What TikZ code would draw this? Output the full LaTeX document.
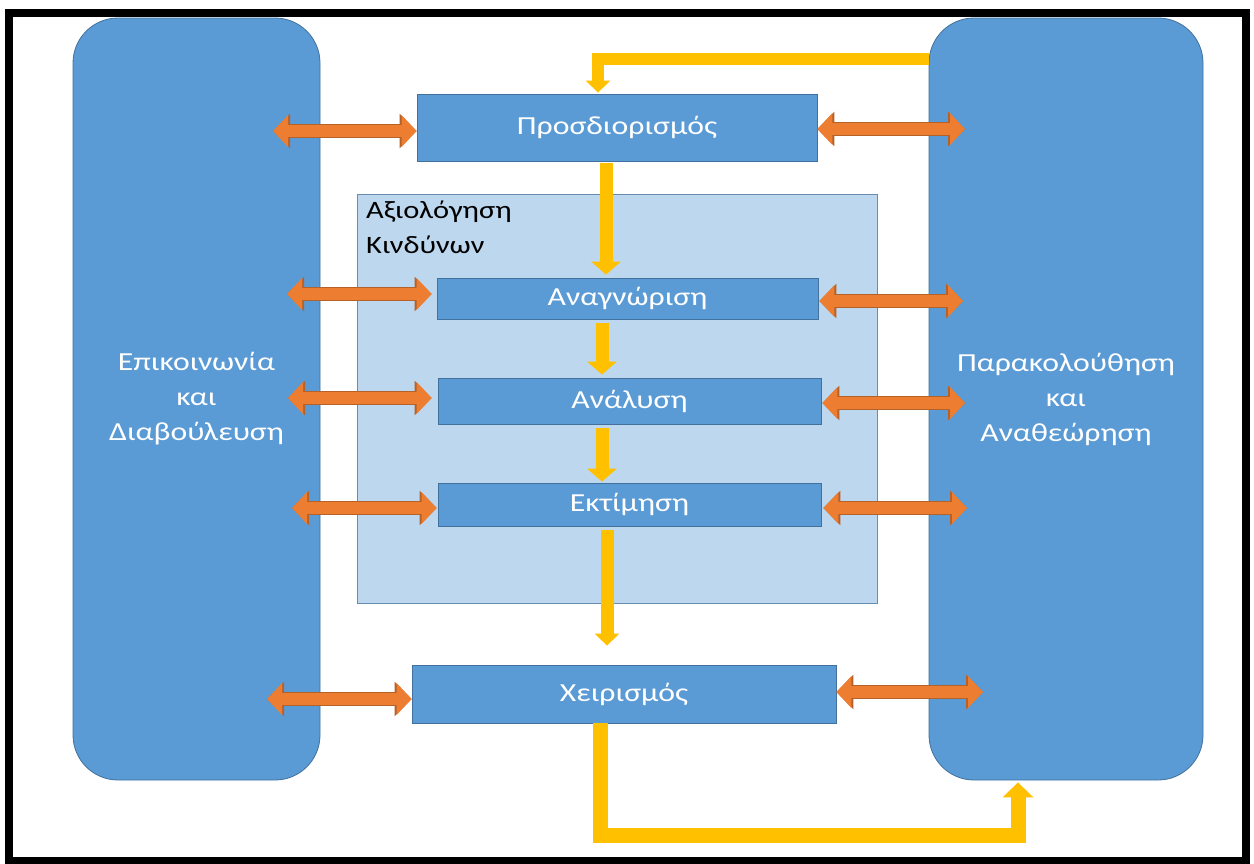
\documentclass[tikz,border=0pt]{standalone}
\usepackage{fontspec}
\setmainfont{Carlito}[FakeStretch=1.22]
\usetikzlibrary{arrows.meta,calc}
\definecolor{bluefill}{HTML}{5B9BD5}
\definecolor{blueline}{HTML}{41719C}
\definecolor{lightfill}{HTML}{BDD7EE}
\definecolor{orangefill}{HTML}{ED7D31}
\definecolor{orangeline}{HTML}{B5612A}
\definecolor{yellowfill}{HTML}{FFC000}
\begin{document}
\begin{tikzpicture}[x=1pt,y=-1pt,
  bigbox/.style={draw=blueline, fill=bluefill, line width=0.8pt, rounded corners=45pt, text=white, align=center, inner sep=0pt, font=\fontsize{26pt}{35pt}\selectfont},
  stepbox/.style={draw=blueline, fill=bluefill, line width=0.8pt, text=white, inner sep=0pt, font=\fontsize{26pt}{30pt}\selectfont},
  groupbox/.style={draw=blueline!80, fill=lightfill, line width=0.8pt, inner sep=0pt},
  yarrow/.style={draw=yellowfill, line width=13pt, -{Triangle[width=29pt,length=13pt]}},
  oarrow/.style={preaction={draw=orangeline, line width=13.6pt, arrows={Triangle[width=33.5pt,length=17pt]-Triangle[width=33.5pt,length=17pt]}},
    draw=orangefill, line width=12pt, {Triangle[width=31pt,length=15pt]}-{Triangle[width=31pt,length=15pt]}},
]
\useasboundingbox (0,0) rectangle (1254,863);
\fill[white] (0,0) rectangle (1254,863);
\draw[line width=8pt] (9,12.5) rectangle (1245.5,861);

% big side boxes
\node[bigbox, minimum width=247pt, minimum height=762pt] (left) at (196.5,399) {Επικοινωνία\\και\\Διαβούλευση};
\node[bigbox, minimum width=274pt, minimum height=762pt] (right) at (1066,399) {Παρακολούθηση\\και\\Αναθεώρηση};

% risk assessment group
\node[groupbox, minimum width=520pt, minimum height=409pt] (group) at (617,398.5) {};
\node[anchor=north west, align=left, inner sep=0pt, text=black, font=\fontsize{25pt}{35pt}\selectfont] (title) at (366,201) {Αξιολόγηση\\Κινδύνων};

% steps
\node[stepbox, minimum width=400pt, minimum height=67pt] (pros) at (617,127.5) {Προσδιορισμός};
\node[stepbox, minimum width=381pt, minimum height=41pt] (anag) at (627.5,298.5) {Αναγνώριση};
\node[stepbox, minimum width=383pt, minimum height=46pt] (anal) at (629.5,401) {Ανάλυση};
\node[stepbox, minimum width=383pt, minimum height=43pt] (ekt) at (629.5,504.5) {Εκτίμηση};
\node[stepbox, minimum width=424pt, minimum height=58pt] (xeir) at (624,694) {Χειρισμός};

% free ends
\coordinate (l1) at (273,131);  \coordinate (r1) at (965,129);
\coordinate (l2) at (287,294);  \coordinate (r2) at (963,301);
\coordinate (l3) at (288,398);  \coordinate (r3) at (965,403);
\coordinate (l4) at (292,508);  \coordinate (r4) at (967,508);
\coordinate (l5) at (267,699);  \coordinate (r5) at (983,692);

% orange double arrows
\draw[oarrow] (l1) -- (pros.west |- l1);
\draw[oarrow] (pros.east |- r1) -- (r1);
\draw[oarrow, shorten >=5pt] (l2) -- (anag.west |- l2);
\draw[oarrow, shorten <=1pt] (anag.east |- r2) -- (r2);
\draw[oarrow, shorten >=6pt] (l3) -- (anal.west |- l3);
\draw[oarrow, shorten <=1pt] (anal.east |- r3) -- (r3);
\draw[oarrow, shorten >=1pt] (l4) -- (ekt.west |- l4);
\draw[oarrow, shorten <=2pt] (ekt.east |- r4) -- (r4);
\draw[oarrow] (l5) -- (xeir.west |- l5);
\draw[oarrow] (xeir.east |- r5) -- (r5);

% yellow flow arrows
\coordinate (fbtop) at (598,59);
\coordinate (v1) at (606,0);
\coordinate (v2) at (602,0);
\coordinate (v3) at (607,0);
\coordinate (v4) at (600,0);
\coordinate (fbb) at (1018,835);
\draw[yarrow, line width=12pt, -{Triangle[width=24pt,length=12pt]}, shorten >=1pt] (right.west |- fbtop) -- (fbtop) -- (pros.north -| fbtop);
\draw[yarrow, shorten <=2pt, shorten >=3pt] (pros.south -| v1) -- (anag.north -| v1);
\draw[yarrow, shorten <=4pt, shorten >=3pt] (anag.south -| v2) -- (anal.north -| v2);
\draw[yarrow, shorten <=4pt, shorten >=1pt] (anal.south -| v2) -- (ekt.north -| v2);
\draw[yarrow, shorten <=4pt, shorten >=19pt, -{Triangle[width=24pt,length=12pt]}] (ekt.south -| v3) -- (xeir.north -| v3);
\draw[yarrow, line width=15pt, -{Triangle[width=30pt,length=15pt]}, shorten >=2pt] (xeir.south -| v4) -- (v4 |- fbb) -- (fbb) -- (right.south -| fbb);
\end{tikzpicture}
\end{document}
